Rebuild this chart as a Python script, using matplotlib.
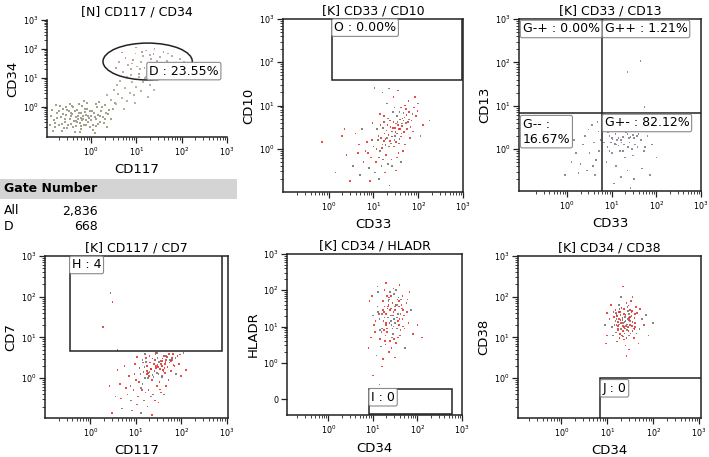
import matplotlib
matplotlib.use("Agg")
import matplotlib.pyplot as plt
from matplotlib.patches import Ellipse, Rectangle
import numpy as np

W, H = 709, 457

# all coordinates are in decades (log10 of the channel value)
# ---- [N] CD117 / CD34
p1_low_x = [-0.82, -0.75, -0.70, -0.66, -0.61, -0.58, -0.55, -0.52, -0.49, -0.46, -0.44, -0.41, -0.39, -0.37, -0.34,
            -0.32, -0.30, -0.28, -0.26, -0.24, -0.22, -0.20, -0.18, -0.16, -0.14, -0.12, -0.10, -0.08, -0.06, -0.04,
            -0.02, 0.01, 0.04, 0.07, 0.10, 0.13, 0.16, 0.19, 0.22, 0.26, 0.30, 0.34, -0.88, -0.79, -0.63, -0.47,
            -0.35, -0.21, -0.09, 0.05, 0.18, -0.68, -0.53, -0.43, -0.31, -0.19, -0.11, 0.00, 0.12, 0.28, 0.40, 0.45,
            -0.86, -0.80, -0.74, -0.71, -0.65, -0.62, -0.57, -0.54, -0.50, -0.45, -0.40, -0.36, -0.33, -0.29, -0.27,
            -0.23, -0.21, -0.17, -0.13, -0.07, -0.03, 0.03, 0.08, 0.11, 0.15, 0.20, 0.24, 0.32, 0.38, 0.48, -0.90,
            -0.84, -0.77, -0.60, -0.42, -0.25, 0.08, 0.35, 0.52, -0.15]
p1_low_y = [-0.45, -0.20, -0.62, -0.35, -0.05, -0.50, -0.28, -0.72, -0.15, -0.40, -0.58, -0.25, 0.02, -0.48, -0.33,
            -0.66, -0.10, -0.42, -0.22, -0.55, -0.36, 0.05, -0.30, -0.62, -0.18, -0.45, -0.27, -0.05, -0.52, -0.38,
            -0.12, -0.30, -0.60, -0.20, -0.42, 0.00, -0.28, -0.50, -0.15, -0.35, 0.08, -0.22, -0.30, -0.70, -0.82,
            0.12, -0.85, -0.75, 0.15, -0.78, 0.18, 0.05, -0.10, -0.30, -0.52, -0.45, -0.60, -0.45, -0.65, -0.55,
            -0.10, -0.40, -0.10, -0.55, -0.38, -0.15, -0.58, -0.25, -0.42, 0.00, -0.60, -0.20, -0.70, -0.12, -0.48,
            -0.30, 0.10, -0.65, -0.20, -0.40, -0.08, -0.32, -0.68, -0.15, -0.35, 0.10, -0.58, -0.32, 0.02, -0.42,
            -0.25, -0.05, -0.60, -0.82, 0.08, -0.72, 0.05, -0.85, -0.88, -0.68, 0.15, 0.20]
p1_trail_x = [0.45, 0.55, 0.60, 0.68, 0.75, 0.80, 0.85, 0.90, 0.95, 1.00, 1.05, 1.10, 0.50, 0.65, 0.72, 0.88, 1.15,
              1.25, 1.30, 0.35, 0.58, 1.20, 0.98, 1.40, 1.45]
p1_trail_y = [0.25, 0.10, 0.45, 0.30, 0.65, 0.20, 0.50, 0.85, 0.40, 0.70, 1.05, 0.55, 0.60, 0.90, -0.05, 1.10, 0.85,
              0.35, 0.75, 0.40, 0.75, 1.00, 0.15, 0.60, 0.95]
p1_gate_x = [0.55, 0.62, 0.70, 0.76, 0.82, 0.88, 0.93, 0.98, 1.02, 1.06, 1.10, 1.14, 1.18, 1.22, 1.25, 1.28, 1.32,
             1.35, 1.38, 1.42, 1.45, 1.48, 1.52, 1.55, 1.60, 1.64, 1.68, 1.72, 1.78, 1.84, 1.90, 1.96, 0.80, 1.00,
             1.20, 1.40, 1.58, 1.75, 2.05, 0.68, 1.08, 1.30, 1.50, 1.62, 0.90, 1.12, 1.36, 1.70]
p1_gate_y = [1.35, 1.55, 1.20, 1.70, 1.45, 1.30, 1.62, 1.85, 1.40, 1.15, 1.55, 1.75, 1.35, 1.95, 1.50, 1.25, 1.65,
             1.42, 1.82, 1.10, 1.58, 1.35, 1.72, 1.48, 1.90, 1.25, 1.60, 1.40, 1.75, 1.50, 1.30, 1.65, 1.05, 2.05,
             1.05, 2.00, 1.05, 1.15, 1.55, 1.88, 1.30, 1.80, 1.20, 1.45, 1.50, 1.90, 1.30, 1.85]

# ---- [K] CD33 / CD10
p2_x = [1.30, 1.42, 1.55, 1.20, 1.65, 1.35, 1.48, 1.60, 1.25, 1.72, 1.38, 1.50, 1.15, 1.80, 1.45, 1.58, 1.28, 1.68,
        1.10, 1.85, 1.40, 1.52, 1.62, 1.75, 1.22, 1.05, 1.90, 1.33, 1.46, 1.56, 1.18, 1.00, 0.95, 1.08, 1.70, 1.95,
        2.00, 1.78, 1.26, 0.90, 0.85, 0.78, 0.70, 0.65, 0.60, 0.55, 0.48, 0.40, 1.12, 1.36, 1.50, 1.62, 1.82, 2.10,
        2.25, 0.30, -0.15, 0.15, 0.98, 1.15, 1.30, 1.45, 1.20, 1.02, 1.55, 0.35, 0.75, 1.88, 1.66, 1.42, 0.92, 1.24,
        1.58, 1.37, 1.48, 1.64, 1.74, 1.29, 1.53, 1.11, 0.82, 1.03, 1.19, 0.68, 2.05, 1.93, 1.70, 1.35,
        1.34, 1.44, 1.54, 1.24, 1.64, 1.39, 1.49, 1.59, 1.27, 1.69, 1.41, 1.51, 1.17, 1.77, 1.47, 1.57, 1.31, 1.67,
        1.13, 1.83, 1.21, 1.61, 1.73, 1.87, 0.97, 1.07, 1.43, 1.53, 1.63, 1.33, 1.23, 0.88, 1.79, 1.98, 1.16, 1.47,
        1.37, 1.27, 1.57, 1.67]
p2_y = [0.25, 0.40, 0.55, 0.10, 0.70, 0.05, 0.30, 0.45, 0.35, 0.60, 0.50, 0.15, -0.05, 0.85, 0.62, 0.22, -0.15, 0.38,
        0.20, 0.65, -0.25, 0.75, 0.95, 0.45, 0.48, -0.30, 0.95, 0.70, 0.05, -0.10, -0.40, 0.05, -0.20, 0.45, 0.10,
        0.75, 1.05, 1.10, -0.55, -0.45, 0.15, -0.30, -0.60, -0.10, 0.35, -0.40, -0.75, -0.15, -0.70, -0.85, -0.50,
        -0.30, 0.25, 0.55, 0.65, 0.30, 0.15, -0.55, 0.60, 0.80, 1.05, 1.20, 1.30, 1.40, 1.35, 0.45, 0.45, 0.40,
        -0.05, -0.40, -0.75, 0.62, 0.85, 0.18, 0.48, 0.58, 0.78, 0.42, 0.35, 0.30, -0.05, -0.55, 0.02, 0.10, 0.30,
        1.20, 1.00, 1.39,
        0.32, 0.48, 0.62, 0.18, 0.52, 0.12, 0.38, 0.68, 0.08, 0.72, 0.28, 0.58, 0.25, 0.62, 0.20, 0.45, 0.55, 0.82,
        -0.20, 0.50, -0.25, 0.28, 0.92, 0.80, 0.20, 0.00, 0.85, -0.20, 0.35, -0.35, 0.75, -0.10, 0.68, 0.88, 0.55,
        0.95, 0.65, 0.22, 0.12, 0.65]

# ---- [K] CD33 / CD13
p3_x = [0.85, 0.95, 1.05, 1.12, 1.20, 1.28, 1.35, 1.42, 1.50, 1.58, 0.90, 1.00, 1.10, 1.18, 1.25, 1.32, 1.40, 1.48,
        1.55, 1.65, 1.72, 0.88, 0.98, 1.08, 1.15, 1.22, 1.30, 1.38, 1.45, 1.52, 1.62, 1.80, 1.90, 2.00, 1.35, 1.20,
        1.50, 1.10, 1.68, 1.85, 1.05, 1.42, 0.95, 1.25, 1.55, 2.10, 0.70, 0.60, 0.50, 0.40, 0.30, 0.20, 0.65, 0.55,
        0.45, 0.72, 0.35, 0.62, 0.75, 0.10, 0.25, 0.48, 0.58, 0.68, -0.05, 0.15, 1.64, 1.35, 1.73,
        0.92, 1.02, 1.12, 1.22, 1.32, 1.42, 1.52, 0.97, 1.07, 1.17, 1.27, 1.37, 1.47, 1.57, 1.00, 1.10, 1.20, 1.30,
        1.40, 1.50, 0.83, 1.60, 1.45, 1.15, 1.35, 1.25, 1.05, 0.95, 1.65, 1.75]
p3_y = [0.45, 0.30, 0.50, 0.20, 0.40, 0.10, 0.35, 0.55, 0.25, 0.05, 0.05, -0.10, 0.60, -0.05, 0.28, 0.48, 0.15,
        -0.15, 0.40, 0.20, -0.05, -0.30, 0.15, 0.35, 0.08, 0.58, -0.20, 0.25, 0.45, 0.10, 0.50, 0.30, 0.10, -0.20,
        -0.50, -0.65, -0.70, -0.40, -0.45, -0.60, -0.80, -0.90, 0.62, 0.70, 0.68, 0.45, 0.40, 0.15, -0.10, 0.30,
        -0.35, -0.10, -0.25, 0.55, -0.50, -0.05, 0.10, -0.60, 0.20, -0.30, -0.55, 0.45, -0.40, 0.62, -0.60, 0.20,
        2.03, 1.78, 0.97,
        0.38, 0.22, 0.45, 0.15, 0.38, 0.28, 0.48, 0.55, 0.12, 0.52, 0.42, 0.05, 0.32, 0.30, 0.25, 0.10, 0.20, 0.55,
        0.42, 0.62, 0.15, 0.35, 0.00, 0.25, 0.62, -0.05, 0.65, -0.05, 0.45, 0.05]

# ---- [K] CD117 / CD7
p4_x = [1.30, 1.45, 1.55, 1.20, 1.65, 1.35, 1.50, 1.60, 1.25, 1.75, 1.40, 1.52, 1.15, 1.80, 1.42, 1.58, 1.28, 1.70,
        1.10, 1.85, 1.38, 1.48, 1.62, 1.78, 1.22, 1.05, 1.92, 1.33, 1.46, 1.56, 1.18, 1.00, 0.95, 1.08, 1.72, 1.95,
        2.05, 1.82, 1.26, 0.90, 0.85, 0.78, 0.70, 0.65, 0.60, 0.55, 0.48, 0.42, 1.12, 1.36, 1.50, 1.62, 2.10, 0.98,
        1.15, 1.30, 1.45, 1.20, 1.02, 0.75, 1.88, 1.66, 1.42, 0.92, 1.24, 1.58, 1.37, 1.48, 1.64, 1.74, 1.29, 1.53,
        1.11, 0.82, 1.03, 1.19, 0.68, 2.00, 0.44, 0.49, 0.28, 0.60,
        1.34, 1.44, 1.54, 1.24, 1.64, 1.39, 1.49, 1.59, 1.27, 1.69, 1.41, 1.51, 1.17, 1.77, 1.47, 1.57, 1.31, 1.67,
        1.13, 1.83, 1.21, 1.61, 1.73, 1.87, 0.97, 1.07, 1.43, 1.53, 1.63, 1.33, 1.23, 0.88, 1.79, 1.98, 1.16, 1.47,
        1.37, 1.27, 1.57, 1.67]
p4_y = [0.15, 0.25, 0.35, 0.00, 0.40, -0.05, 0.10, 0.20, 0.30, 0.45, 0.35, -0.10, -0.15, 0.50, 0.45, 0.05, -0.30,
        0.28, 0.10, 0.30, -0.40, 0.50, 0.55, 0.18, 0.40, -0.45, 0.55, 0.22, -0.20, -0.35, -0.55, -0.05, -0.30, 0.25,
        -0.05, 0.35, 0.62, 0.60, -0.70, -0.55, 0.05, -0.25, -0.75, -0.15, 0.20, -0.45, -0.85, -0.20, -0.85, -0.90,
        -0.60, -0.40, 0.20, 0.35, 0.45, 0.55, 0.62, 0.60, 0.52, 0.30, 0.10, -0.20, -0.55, -0.80, 0.18, 0.42, 0.08,
        0.32, 0.12, 0.38, 0.05, 0.22, -0.25, -0.40, -0.65, 0.28, -0.50, 0.05, 2.09, 1.87, 1.25, 0.69,
        0.22, 0.30, 0.42, 0.10, 0.35, 0.02, 0.28, 0.48, 0.00, 0.52, 0.18, 0.40, 0.15, 0.42, 0.12, 0.30, 0.38, 0.55,
        -0.30, 0.32, -0.35, 0.18, 0.60, 0.50, 0.10, -0.10, 0.58, -0.28, 0.25, -0.45, 0.50, -0.20, 0.45, 0.58, 0.38,
        0.62, 0.48, 0.12, 0.02, 0.45]

# ---- [K] CD34 / HLADR  (0 sits one decade below 10^0)
p5_x = [1.40, 1.30, 1.50, 1.20, 1.60, 1.35, 1.45, 1.25, 1.55, 1.15, 1.65, 1.38, 1.48, 1.28, 1.58, 1.10, 1.70, 1.32,
        1.42, 1.52, 1.22, 1.62, 1.05, 1.75, 1.18, 1.46, 1.36, 1.56, 1.26, 1.66, 1.00, 0.95, 1.80, 1.12, 1.60, 1.30,
        1.08, 1.20, 1.00, 1.15, 0.90, 0.92, 1.85, 1.90, 2.00, 1.72, 1.50, 1.40, 1.34, 1.44, 1.24, 1.54, 1.64, 1.16,
        1.48, 1.28, 1.58, 1.38, 1.68, 1.02, 1.78, 1.22, 0.98, 1.10, 1.82, 1.42, 1.52, 1.32, 1.46, 1.36, 1.56, 1.26,
        1.62, 1.14, 2.10,
        1.41, 1.31, 1.51, 1.21, 1.61, 1.36, 1.46, 1.26, 1.56, 1.16, 1.66, 1.39, 1.49, 1.29, 1.59, 1.11, 1.71, 1.33,
        1.43, 1.53, 1.23, 1.63, 1.06, 1.76, 1.19, 1.47, 1.37, 1.57, 1.27, 1.67, 1.35, 1.45, 1.25, 1.55, 1.40, 1.30,
        1.50, 1.44, 1.34, 1.54]
p5_y = [1.30, 1.10, 1.45, 0.95, 1.20, 1.60, 0.80, 1.40, 1.75, 1.20, 1.50, 0.60, 1.90, 0.75, 1.05, 1.55, 1.30, 1.85,
        1.05, 0.55, 1.70, 0.90, 0.85, 1.65, 0.45, 2.05, 0.30, 1.35, 2.00, 1.85, 1.30, 0.70, 1.10, 1.95, 2.15, 2.20,
        0.20, -0.10, -0.35, -0.60, 0.40, 1.70, 1.45, 0.80, 1.05, 0.40, 0.15, 1.50, 1.25, 1.65, 1.15, 0.95, 1.60,
        0.65, 1.20, 0.50, 1.55, 1.95, 1.00, 1.05, 1.75, 0.10, 1.85, 2.10, 1.95, 0.40, 2.00, 0.95, 1.40, 1.75, 0.70,
        1.55, 1.35, 1.35, 0.70,
        1.15, 0.85, 1.60, 1.35, 0.75, 1.80, 1.00, 1.25, 1.15, 0.90, 1.20, 1.45, 1.55, 1.05, 1.70, 1.40, 0.95, 1.50,
        0.70, 1.25, 1.45, 1.75, 1.15, 1.40, 0.85, 0.65, 1.10, 1.80, 0.60, 1.45, 1.70, 1.30, 0.90, 1.25, 1.85, 1.35,
        1.10, 0.95, 1.55, 1.60]

# ---- [K] CD34 / CD38
p6_x = [1.35, 1.25, 1.45, 1.30, 1.40, 1.20, 1.50, 1.38, 1.28, 1.48, 1.15, 1.55, 1.33, 1.43, 1.23, 1.53, 1.18, 1.60,
        1.10, 1.65, 1.36, 1.26, 1.46, 1.05, 1.70, 1.32, 1.42, 1.12, 1.58, 1.00, 1.75, 1.22, 1.52, 0.95, 1.80, 1.40,
        1.30, 1.62, 1.08, 1.85, 1.48, 1.35, 1.90, 1.00, 1.68, 1.55, 1.20, 1.34, 1.44, 1.24, 1.54, 1.29, 1.39, 1.49,
        1.19, 1.59, 1.14, 1.64, 1.37, 1.27, 1.47, 0.98, 1.72, 2.00, 1.42,
        1.33, 1.43, 1.23, 1.53, 1.38, 1.28, 1.48, 1.18, 1.58, 1.36, 1.26, 1.46, 1.31, 1.41, 1.21, 1.51, 1.16, 1.61,
        1.35, 1.45, 1.25, 1.55, 1.40, 1.30, 1.50, 1.20, 1.60, 1.34, 1.44, 1.24, 1.54, 1.39, 1.29, 1.49, 1.19, 1.59,
        1.37, 1.27, 1.47, 1.42]
p6_y = [1.35, 1.45, 1.25, 1.20, 1.55, 1.30, 1.40, 1.10, 1.62, 1.58, 1.50, 1.15, 1.48, 1.32, 1.18, 1.52, 1.68, 1.35,
        1.25, 1.60, 0.95, 1.80, 1.78, 1.45, 1.20, 1.05, 1.85, 1.05, 0.98, 1.60, 1.45, 0.90, 1.90, 1.30, 1.30, 0.80,
        2.00, 1.75, 1.80, 1.55, 0.70, 2.25, 1.05, 1.05, 0.85, 2.00, 1.55, 1.28, 1.45, 1.38, 1.28, 1.55, 1.22, 1.68,
        1.12, 1.48, 1.62, 1.10, 1.70, 0.98, 1.05, 0.85, 1.70, 1.35, 0.55,
        1.42, 1.18, 1.28, 1.62, 1.38, 1.08, 1.48, 1.40, 1.22, 1.58, 1.32, 1.15, 1.72, 1.28, 1.52, 1.10, 1.30, 1.58,
        1.02, 1.65, 1.62, 1.38, 1.40, 1.35, 1.50, 1.45, 1.25, 1.15, 1.75, 1.22, 1.65, 1.50, 1.42, 1.30, 1.60, 1.20,
        1.25, 1.70, 1.42, 0.98]

gate_counts = [("All", "2,836"), ("D", "668")]

fig = plt.figure(figsize=(W / 100, H / 100), dpi=100)
plt.rcParams['font.family'] = 'DejaVu Sans'
plt.rcParams['mathtext.fontset'] = 'dejavusans'

RED = '#e0302a'
GREY = '#707070'
box = dict(boxstyle='round,pad=0.18,rounding_size=0.15', fc='white', ec='#8a8a8a', lw=0.8)


def panel(left, top, right, bottom, xlim, ylim, title, xlab, ylab, full=True, zero=False):
    ax = fig.add_axes([left / W, 1 - bottom / H, (right - left) / W, (bottom - top) / H])
    ax.set_xlim(*xlim)
    ax.set_ylim(*ylim)
    ax.set_xticks([0, 1, 2, 3])
    ax.set_xticklabels([r'$10^{%d}$' % k for k in range(4)])
    if zero:
        ax.set_yticks([-1, 0, 1, 2, 3])
        ax.set_yticklabels(['0'] + [r'$10^{%d}$' % k for k in range(4)])
    else:
        ax.set_yticks([0, 1, 2, 3])
        ax.set_yticklabels([r'$10^{%d}$' % k for k in range(4)])
    minor = [n + np.log10(k) for n in range(-1, 3) for k in range(2, 10)]
    ax.set_xticks([m for m in minor if xlim[0] < m < xlim[1]], minor=True)
    ymin = [m for m in minor if ylim[0] < m < ylim[1]]
    if zero:
        ymin = [m for m in minor if m > 0]
    ax.set_yticks(ymin, minor=True)
    ax.tick_params(which='major', length=4, width=0.9, labelsize=5.8, pad=2, color='#222')
    ax.tick_params(which='minor', length=2, width=0.6, color='#222')
    for s in ax.spines.values():
        s.set_linewidth(1.1)
        s.set_color('#222')
    if not full:
        ax.spines['top'].set_visible(False)
        ax.spines['right'].set_visible(False)
    ax.set_title(title, fontsize=9, pad=3)
    fig.text((left + right) / 2 / W, 1 - (bottom + 33) / H, xlab, fontsize=9.5, ha='center', va='center')
    fig.text((left - 34) / W, 1 - (top + bottom) / 2 / H, ylab, fontsize=9.5, ha='center', va='center',
             rotation=90)
    return ax


def dots(ax, xs, ys):
    cols = [GREY if i % 3 == 0 else RED for i in range(len(xs))]
    ax.scatter(xs, ys, s=1.4, c=cols, marker='s', linewidths=0, alpha=0.85)


# panel 1
ax1 = panel(47, 20, 227, 137, (-0.97, 3), (-1.03, 3), '[N] CD117 / CD34', 'CD117', 'CD34', full=False)
ax1.scatter(p1_low_x, p1_low_y, s=2.0, c='#a3a38c', marker='s', linewidths=0)
ax1.scatter(p1_trail_x, p1_trail_y, s=1.6, c='#b9b2a6', marker='s', linewidths=0)
ax1.scatter(p1_gate_x, p1_gate_y, s=1.6, c=['#c99a95' if i % 3 == 0 else '#b8b0a8' for i in range(len(p1_gate_x))],
            marker='s', linewidths=0)
ax1.add_patch(Ellipse((1.25, 1.57), 1.97, 1.27, fill=False, ec='#222', lw=1.1))
ax1.text(1.28, 1.24, 'D : 23.55%', fontsize=9, ha='left', va='center', bbox=box)

# panel 2
ax2 = panel(283, 19, 463, 192, (-1.02, 3), (-1.0, 3), '[K] CD33 / CD10', 'CD33', 'CD10')
dots(ax2, p2_x, p2_y)
ax2.add_patch(Rectangle((0.07, 1.59), 2.91, 1.45, fill=False, ec='#222', lw=1.1))
ax2.text(0.12, 2.8, 'O : 0.00%', fontsize=9, ha='left', va='center', bbox=box)

# panel 3
ax3 = panel(519, 19, 701, 191, (-1.08, 3), (-0.97, 3), '[K] CD33 / CD13', 'CD33', 'CD13')
ax3.scatter(p3_x, p3_y, s=1.4, c=['#9a8aa8' if i % 2 else '#8c8c8c' for i in range(len(p3_x))], marker='s',
            linewidths=0)
ax3.axvline(0.79, color='#222', lw=1.1)
ax3.axhline(0.84, color='#222', lw=1.1)
ax3.text(-1.0, 2.77, 'G-+ : 0.00%', fontsize=9, ha='left', va='center', bbox=box)
ax3.text(0.84, 2.77, 'G++ : 1.21%', fontsize=9, ha='left', va='center', bbox=box)
ax3.text(-1.0, 0.4, 'G-- :\n16.67%', fontsize=9, ha='left', va='center', bbox=box, linespacing=1.2)
ax3.text(0.84, 0.6, 'G+- : 82.12%', fontsize=9, ha='left', va='center', bbox=box)

# gate table
fig.patches.append(Rectangle((0, 1 - 199 / H), 237 / W, 20 / H, transform=fig.transFigure, fc='#d4d4d4', ec='none'))
fig.text(4 / W, 1 - 189 / H, 'Gate Number', fontsize=9, fontweight='bold', va='center')
for i, (g, n) in enumerate(gate_counts):
    yy = 1 - (211 + 15 * i) / H
    fig.text(4 / W, yy, g, fontsize=9, va='center')
    fig.text(98 / W, yy, n, fontsize=9, va='center', ha='right')

# panel 4
ax4 = panel(45, 256, 228, 418, (-1.0, 3.03), (-0.98, 3), '[K] CD117 / CD7', 'CD117', 'CD7')
dots(ax4, p4_x, p4_y)
ax4.add_patch(Rectangle((-0.46, 0.66), 3.36, 2.4, fill=False, ec='#222', lw=1.1))
ax4.text(-0.41, 2.78, 'H : 4', fontsize=9, ha='left', va='center', bbox=box)

# panel 5
ax5 = panel(287, 254, 462, 415, (-0.93, 2.97), (-1.44, 3), '[K] CD34 / HLADR', 'CD34', 'HLADR', zero=True)
dots(ax5, p5_x, p5_y)
ax5.add_patch(Rectangle((0.91, -1.42), 1.87, 0.7, fill=False, ec='#222', lw=1.1))
ax5.text(0.96, -0.95, 'I : 0', fontsize=9, ha='left', va='center', bbox=box)

# panel 6
ax6 = panel(518, 256, 701, 418, (-0.94, 3.04), (-0.98, 3), '[K] CD34 / CD38', 'CD34', 'CD38')
dots(ax6, p6_x, p6_y)
ax6.add_patch(Rectangle((0.85, -1.1), 2.3, 1.1, fill=False, ec='#222', lw=1.1))
ax6.text(0.9, -0.25, 'J : 0', fontsize=9, ha='left', va='center', bbox=box)

fig.savefig('out.png', dpi=100)
